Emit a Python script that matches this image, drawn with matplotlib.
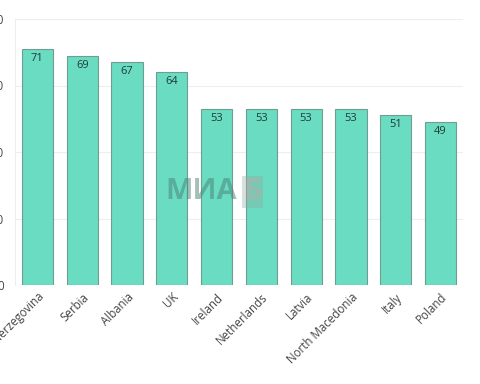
import matplotlib.pyplot as plt

countries = ['Bosnia and Herzegovina', 'Serbia', 'Albania', 'UK', 'Ireland',
             'Netherlands', 'Latvia', 'North Macedonia', 'Italy', 'Poland']
values = [71, 69, 67, 64, 53, 53, 53, 53, 51, 49]
yticks = [0, 20, 40, 60, 80]

plt.rcParams['font.family'] = ['Open Sans', 'DejaVu Sans']

fig = plt.figure(figsize=(4.8, 3.84), dpi=100)
ax = fig.add_axes([15 / 480, 1 - 285 / 384, 448 / 480, 266 / 384])

bars = ax.bar(range(len(countries)), values, width=0.7, color='#6adcc2',
              edgecolor='#6f9e91', linewidth=0.8, zorder=3)
for b, v in zip(bars, values):
    ax.text(b.get_x() + b.get_width() / 2, v - 1.2, str(v), ha='center', va='top',
            fontsize=8, color='#1f3d35', zorder=4)

ax.set_xlim(-0.5, len(countries) - 0.5)
ax.set_ylim(0, 80)
ax.set_yticks(yticks)
ax.set_yticklabels([str(t) for t in yticks])
ax.set_xticks(range(len(countries)))
ax.set_xticklabels(countries, rotation=45, ha='right', rotation_mode='anchor')
ax.tick_params(axis='both', length=0, labelsize=8.3, colors='#444444')
ax.tick_params(axis='y', pad=8)
ax.tick_params(axis='x', pad=4)
ax.grid(axis='y', color='#eeeeee', linewidth=0.8, zorder=0)
for s in ['top', 'right', 'bottom']:
    ax.spines[s].set_visible(False)
ax.spines['left'].set_color('#eeeeee')

# watermark
ax.text(0.415, 0.35, 'МИА', transform=ax.transAxes, ha='center', va='center',
        fontsize=21, fontweight='bold', color='#4a7f75', alpha=0.5, zorder=5)
ax.text(0.53, 0.35, 'Б', transform=ax.transAxes, ha='center', va='center',
        fontsize=21, fontweight='bold', color='#c9a9a9', alpha=0.45, zorder=5,
        bbox=dict(boxstyle='square,pad=0.05', fc='#8fa79f', ec='none', alpha=0.35))

fig.savefig('out.png', dpi=100)
